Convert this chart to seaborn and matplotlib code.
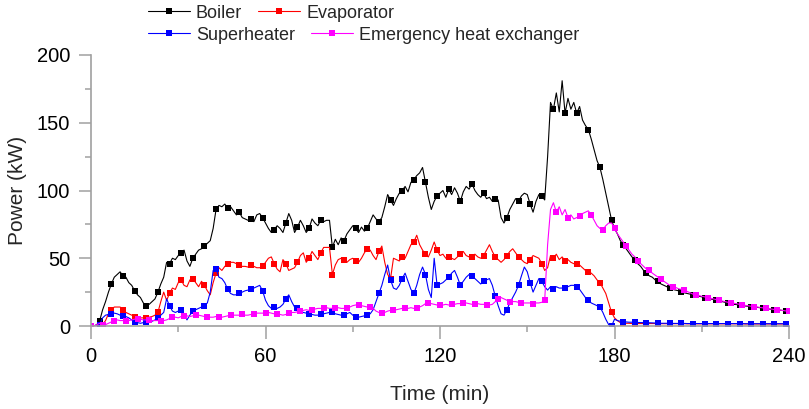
import matplotlib
matplotlib.use("Agg")
import matplotlib.pyplot as plt
from matplotlib.ticker import MultipleLocator
import numpy as np
import pandas as pd
import seaborn as sns

# ---------------- data (1-min resolution) ----------------
time_min = list(range(0, 241))

boiler = [
    0, 0, 1, 4, 12, 18, 25, 31, 36, 38,
    40, 37, 36, 32, 30, 26, 23, 21, 17, 15,
    16, 18, 20, 25, 31, 36, 47, 46, 50, 49,
    52, 54, 56, 48, 44, 50, 53, 56, 57, 59,
    61, 63, 72, 86, 89, 88, 90, 87, 88, 85,
    82, 84, 80, 79, 78, 79, 77, 82, 83, 80,
    76, 72, 69, 71, 74, 72, 69, 76, 83, 78,
    69, 73, 78, 74, 69, 72, 79, 76, 74, 78,
    77, 78, 78, 58, 64, 60, 65, 63, 68, 71,
    74, 72, 69, 73, 70, 72, 77, 82, 79, 77,
    80, 88, 97, 93, 89, 94, 98, 100, 103, 99,
    106, 108, 111, 113, 117, 106, 95, 86, 92, 96,
    98, 100, 95, 101, 97, 102, 98, 92, 99, 103,
    101, 105, 100, 97, 95, 98, 94, 95, 92, 94,
    93, 80, 76, 80, 86, 90, 94, 92, 96, 98,
    97, 90, 84, 92, 97, 96, 93, 125, 165, 160,
    172, 158, 181, 157, 168, 160, 165, 157, 162, 152,
    148, 145, 138, 130, 122, 117, 108, 98, 88, 78,
    72, 68, 63, 60, 57, 54, 51, 49, 46, 44,
    41, 39, 37, 36, 34, 33, 31, 30, 29, 28,
    27, 26.5, 26, 25, 24.5, 24, 23.5, 23, 22.5, 22,
    21.5, 21, 20.5, 20, 19.5, 19, 18.5, 18, 17.5, 17,
    16.5, 16, 15.8, 15.4, 15, 14.8, 14.5, 14.2, 14, 13.8,
    13.5, 13.2, 12.9, 12.6, 12.3, 12, 11.9, 11.7, 11.4, 11.1,
    10.8,
]

evaporator = [
    0, 0, 0, 0, 1, 4, 9, 12, 14, 14,
    14, 12, 10, 9, 8, 7, 6, 6, 6, 6,
    6.5, 7, 8, 10, 18, 25, 19, 24, 28, 27,
    32, 34, 30, 29, 34, 35, 32, 29, 33, 30,
    26, 23, 32, 39, 43, 41, 44, 46, 47, 47,
    46, 45, 44, 44, 43.5, 45, 44, 43, 43, 44,
    47, 50, 51, 46, 42, 40, 49, 46, 41, 42,
    43, 47, 52, 54, 47, 50, 55, 52, 49, 54,
    58, 58, 58, 38, 45, 49, 50, 49, 47, 49,
    50, 48, 47, 50, 54, 57, 56, 52, 49, 55,
    59, 47, 38, 35, 50, 49, 48, 51, 50, 55,
    60, 62, 67, 60, 56, 53, 51, 56, 62, 56,
    52, 53, 50, 51, 50, 49, 51, 53, 55, 52,
    51, 51, 53, 51, 50, 52, 56, 60, 55, 51,
    49, 47, 49, 52, 55, 57, 54, 51, 49, 47,
    46, 49, 52, 51, 50, 46, 41, 43, 52, 50,
    53, 49, 51, 48, 49, 47, 46, 46, 45, 43,
    41, 40, 39, 37, 34, 32, 28, 24, 17, 10,
    6, 4, 2.5, 2, 2, 2, 1.8, 1.8, 1.8, 1.8,
    1.8, 1.8, 1.8, 1.8, 1.8, 1.7, 1.7, 1.7, 1.7, 1.7,
    1.7, 1.7, 1.7, 1.7, 1.7, 1.6, 1.6, 1.6, 1.6, 1.6,
    1.6, 1.6, 1.6, 1.6, 1.6, 1.6, 1.6, 1.6, 1.6, 1.6,
    1.6, 1.6, 1.6, 1.6, 1.6, 1.5, 1.5, 1.5, 1.5, 1.5,
    1.5, 1.5, 1.5, 1.5, 1.5, 1.5, 1.5, 1.5, 1.5, 1.5,
    1.5,
]

superheater = [
    0, 0, 0, 1, 6, 8, 8.5, 9, 9.5, 9,
    8, 7.5, 7, 6, 4.5, 3, 2.5, 2, 2.5, 3,
    3, 3.5, 4.5, 6, 8, 10, 20, 15, 11, 10,
    11, 12, 9, 4.5, 8, 11, 12, 13, 14, 15,
    17, 25, 41, 42, 36, 35, 32, 27, 24, 23,
    23, 24, 25, 26, 26.5, 27, 28, 29, 30, 26,
    19, 15, 13, 14, 13, 14, 16, 20, 23, 18,
    14, 13, 11, 10, 9.5, 9, 8.5, 8, 8, 8.5,
    9, 9.5, 10, 10, 9, 8.5, 8, 8, 9, 10,
    8, 7, 6.5, 7, 7.5, 8, 9, 12, 18, 24,
    30, 38, 45, 34, 28, 27, 30, 35, 39, 33,
    27, 24, 30, 38, 43.5, 38, 27, 21, 50, 30,
    31, 32, 34, 36, 39, 41, 36, 30, 33, 36,
    38, 37, 35, 33, 31, 33, 34, 35, 30, 22,
    15, 9, 8, 12, 17, 21, 25, 30, 37, 43.5,
    40, 32, 25, 30, 35, 33, 29, 26.5, 29, 27,
    29, 28, 28, 28, 29, 30, 30, 29, 27, 24,
    21, 19, 17, 16, 15, 14, 10, 5, 1, 0,
    5, 4, 3.5, 3, 3, 2.8, 2.8, 2.6, 2.6, 2.5,
    2.5, 2.4, 2.4, 2.3, 2.2, 2.2, 2, 2, 2, 2,
    1.9, 1.9, 1.9, 1.9, 1.9, 1.8, 1.8, 1.8, 1.8, 1.8,
    1.8, 1.8, 1.8, 1.8, 1.8, 1.8, 1.8, 1.8, 1.8, 1.8,
    1.8, 1.8, 1.8, 1.8, 1.8, 1.7, 1.7, 1.7, 1.7, 1.7,
    1.7, 1.7, 1.7, 1.7, 1.7, 1.7, 1.7, 1.7, 1.7, 1.7,
    1.7,
]

emergency = [
    0, 0, 1, 2, 1, 1, 2, 3, 4, 4.5,
    4, 4, 4, 4, 4.5, 5, 5, 5, 4.5, 4.5,
    4.5, 4, 4, 4, 4, 4, 4.5, 5.5, 6.5, 6.5,
    6, 7, 7.5, 7.5, 7, 7.5, 8, 8, 7.5, 7,
    7, 6.5, 6.5, 7, 7, 6.5, 7, 7.5, 8, 8,
    8, 8, 8.5, 8, 8, 8.5, 9, 9.5, 9.5, 9.5,
    9.5, 10, 9.5, 9, 9, 8.5, 8, 8.5, 9.5, 10,
    10, 10.5, 11, 11.5, 12, 11.5, 12, 12.5, 13, 13,
    13, 13.5, 13, 13, 13, 13.5, 13, 13, 13.5, 14,
    15, 15.5, 15.5, 15, 14.5, 14, 14, 13, 11, 10,
    9.6, 10, 11, 11.5, 12, 12, 12.5, 13, 13, 13,
    13.5, 13, 13, 14, 15, 16.5, 17, 16.5, 16, 15.5,
    15.5, 15.5, 16, 15.5, 16, 16, 16.5, 16.5, 17, 17,
    16.5, 16, 16.5, 16.5, 16, 16, 15.5, 15.5, 16, 18,
    20, 21, 20, 19, 18, 18, 18, 17.5, 17, 17,
    17, 17, 16.5, 17, 17, 17.5, 19, 60, 86, 91,
    84, 88, 82, 86, 80, 82, 79, 80, 81, 83,
    84, 85, 82, 78, 74, 72, 71, 74, 76, 76,
    72, 68, 65, 62, 59, 56, 53, 51, 48, 46,
    44, 42, 41, 39, 37.5, 36, 35, 33, 31.5, 30,
    29, 28.5, 27.5, 27, 26.5, 25.5, 24.5, 23.5, 23, 22.5,
    22, 21.5, 21, 20.5, 20, 19.5, 19, 18.5, 18, 17.5,
    17, 16.8, 16.4, 16, 15.6, 15.2, 14.9, 14.6, 14.3, 14,
    13.7, 13.4, 13.1, 12.8, 12.5, 12.2, 12, 11.7, 11.4, 11.1,
    10.8,
]

series_names = ["Boiler", "Evaporator", "Superheater", "Emergency heat exchanger"]
series_values = [boiler, evaporator, superheater, emergency]
series_colors = ["#000000", "#ff0000", "#0000ff", "#ff00ff"]
marker_offsets = [3, 3, 3, 0]

x_ticks = [0, 60, 120, 180, 240]
y_ticks = [0, 50, 100, 150, 200]

frames = []
for name, vals in zip(series_names, series_values):
    frames.append(pd.DataFrame({"Time": time_min, "Power": vals, "Series": name}))
df = pd.concat(frames, ignore_index=True)

# ---------------- style ----------------
sns.set_style("white")
plt.rcParams["font.family"] = ["Liberation Sans", "DejaVu Sans"]

fig = plt.figure(figsize=(8.09, 4.09), dpi=100)
ax = fig.add_axes([91 / 809, 1 - 326 / 409, 698 / 809, 271 / 409])

for name, color, off in zip(series_names, series_colors, marker_offsets):
    sub = df[df["Series"] == name]
    sns.lineplot(data=sub, x="Time", y="Power", ax=ax, color=color,
                 estimator=None, sort=False, linewidth=0.8,
                 marker="s", markersize=4.5, markeredgewidth=0,
                 markevery=(off, 4), label=name)

if ax.get_legend() is not None:
    ax.get_legend().remove()

ax.set_xlim(0, 240)
ax.set_ylim(0, 200)
ax.set_xticks(x_ticks)
ax.set_yticks(y_ticks)
ax.xaxis.set_minor_locator(MultipleLocator(30))
ax.yaxis.set_minor_locator(MultipleLocator(25))

spine_color = "#a0a0a0"
for s in ["top", "right"]:
    ax.spines[s].set_visible(False)
for s in ["left", "bottom"]:
    ax.spines[s].set_color(spine_color)
    ax.spines[s].set_linewidth(1.2)
ax.tick_params(which="both", bottom=True, left=True, direction="out",
               color=spine_color, width=1.1)
ax.tick_params(which="major", length=9, labelsize=14.5, pad=6, labelcolor="black")
ax.tick_params(which="minor", length=4.5)

ax.set_xlabel("Time (min)", fontsize=15, labelpad=14)
ax.set_ylabel("Power (kW)", fontsize=15, labelpad=7)

lines = ax.get_lines()
kw = dict(frameon=False, ncol=2, fontsize=13, handlelength=2.32,
          handletextpad=0.33, columnspacing=0.89, borderpad=0,
          borderaxespad=0, numpoints=1, loc="center left")
leg1 = fig.legend(lines[:2], series_names[:2],
                  bbox_to_anchor=(148 / 809, 1 - 13 / 409), **kw)
leg2 = fig.legend(lines[2:], series_names[2:],
                  bbox_to_anchor=(148 / 809, 1 - 35 / 409), **kw)

fig.savefig("out.png", dpi=100)
